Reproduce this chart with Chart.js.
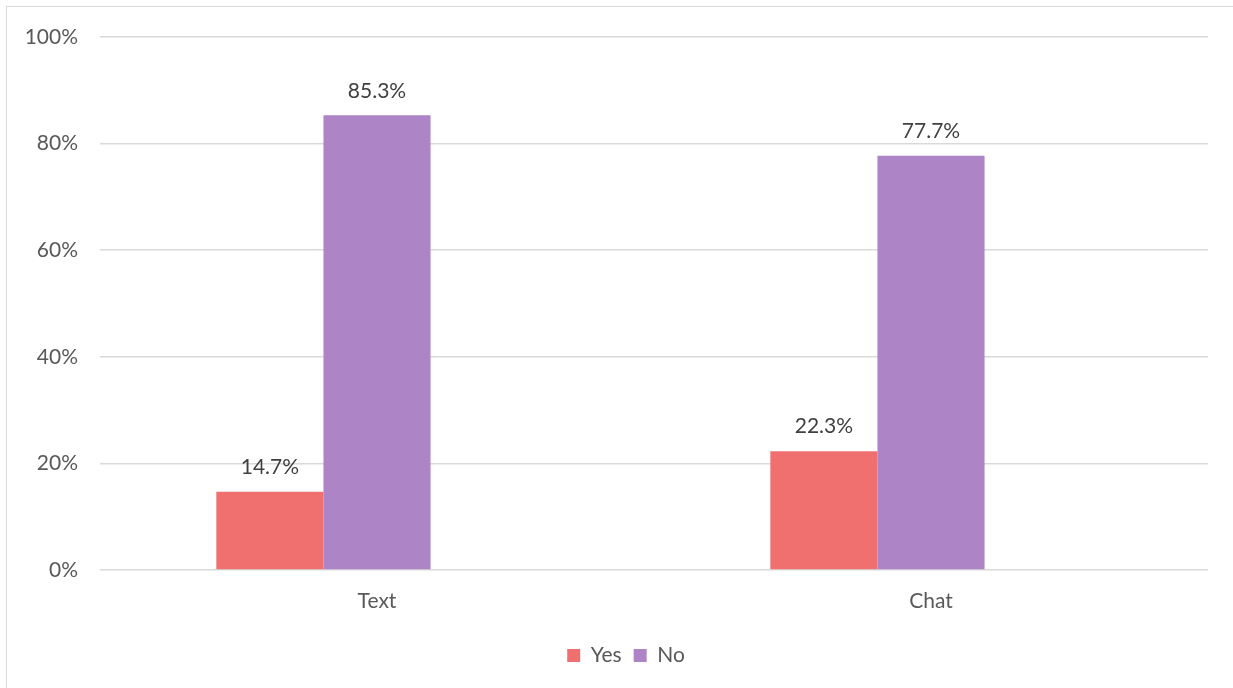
<!DOCTYPE html>
<html>
<head>
<meta charset="utf-8">
<script src="https://cdn.jsdelivr.net/npm/chart.js@4/dist/chart.umd.min.js"></script>
<style>
  html, body { margin: 0; padding: 0; background: #fff; overflow: hidden; }
  #wrap { position: relative; width: 1233px; height: 688px; }
  #frame { position: absolute; left: 6px; top: 6px; width: 1300px; height: 800px;
           border: 1.5px solid #d9d9d9; pointer-events: none; }
  canvas { position: absolute; left: 0; top: 0; }
</style>
</head>
<body>
<div id="wrap">
  <canvas id="chart" width="1233" height="688"></canvas>
  <div id="frame"></div>
</div>
<script>
// data
const categories = ['Text', 'Chat'];
const yesValues = [14.7, 22.3];
const noValues = [85.3, 77.7];
const yTicks = [0, 20, 40, 60, 80, 100];

const FONT = 'Lato, "Open Sans", sans-serif';

// labels above each bar
const valueLabels = {
    id: 'valueLabels',
    afterDatasetsDraw(chart) {
        const { ctx } = chart;
        ctx.save();
        ctx.font = '21px ' + FONT;
        ctx.fillStyle = '#404040';
        ctx.textAlign = 'center';
        ctx.textBaseline = 'bottom';
        chart.data.datasets.forEach((ds, i) => {
            if (ds.hideLabel) return;
            chart.getDatasetMeta(i).data.forEach((bar, j) => {
                const v = ds.data[j];
                if (v == null) return;
                ctx.fillText(v.toFixed(1) + '%', bar.x, bar.y - 14);
            });
        });
        ctx.restore();
    }
};

// center the legend under the plot area, not the whole canvas
const legendShift = {
    id: 'legendShift',
    afterLayout(chart) {
        if (chart.legend) chart.legend.left += 44;
    }
};

new Chart(document.getElementById('chart'), {
    type: 'bar',
    data: {
        labels: categories,
        datasets: [
            { label: 'Yes', data: yesValues, backgroundColor: '#F07070' },
            { label: 'No', data: noValues, backgroundColor: '#AD84C6' },
            // empty third series, Excel leaves its slot
            { label: '', data: categories.map(() => null), backgroundColor: 'transparent', hideLabel: true }
        ]
    },
    options: {
        responsive: false,
        animation: false,
        layout: { padding: { top: 37, right: 25, bottom: 12, left: 0 } },
        datasets: { bar: { categoryPercentage: 0.58, barPercentage: 1.0 } },
        plugins: {
            legend: {
                position: 'bottom',
                labels: {
                    filter: item => item.text !== '',
                    boxWidth: 13,
                    boxHeight: 13,
                    color: '#595959',
                    font: { family: FONT, size: 21 },
                    padding: 12
                }
            },
            tooltip: { enabled: false }
        },
        scales: {
            x: {
                grid: { display: false, drawTicks: false },
                border: { display: false },
                ticks: { color: '#595959', font: { family: FONT, size: 21 }, padding: 19 },
                afterFit(s) { s.height = 63; }
            },
            y: {
                min: 0,
                max: 100,
                afterBuildTicks(s) { s.ticks = yTicks.map(v => ({ value: v })); },
                grid: { color: '#d9d9d9', lineWidth: 1.5, drawTicks: false },
                border: { display: false },
                ticks: {
                    color: '#595959',
                    font: { family: FONT, size: 21 },
                    padding: 22,
                    callback: v => v + '%'
                },
                afterFit(s) { s.width = 100; }
            }
        }
    },
    plugins: [valueLabels, legendShift]
});
</script>
</body>
</html>
